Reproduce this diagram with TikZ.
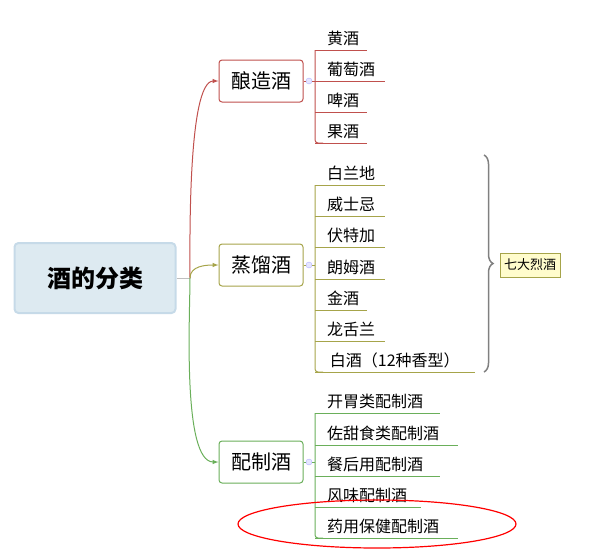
\documentclass[tikz,border=0pt]{standalone}
\usepackage{fontspec}
\setmainfont{Noto Sans CJK SC}
\usetikzlibrary{decorations.pathreplacing}
\definecolor{redline}{HTML}{C0504D}
\definecolor{oliveline}{HTML}{A6A44A}
\definecolor{greenline}{HTML}{6AAF5A}
\definecolor{rootfill}{HTML}{DDEAF1}
\definecolor{rootedge}{HTML}{C6DAE8}
\tikzset{
  rootbox/.style={draw=rootedge, line width=2pt, fill=rootfill, rounded corners=4pt, minimum width=161pt, minimum height=70pt, font=\bfseries\fontsize{24}{26}\selectfont},
  catbox/.style={draw=#1, line width=1pt, fill=white, rounded corners=3pt, minimum width=84pt, minimum height=42pt, font=\fontsize{20}{22}\selectfont},
  leaf/.style={anchor=south west, inner xsep=12pt, inner ysep=4pt, text depth=1pt, align=left, font=\fontsize{16}{18}\selectfont},
  knob/.style={circle, draw=blue!30, fill=blue!10, inner sep=0pt, minimum size=6pt}
}
\begin{document}
\begin{tikzpicture}[x=1pt,y=-1pt]
    \useasboundingbox (0,0) rectangle (600,558);
    % root
    \node[rootbox] (root) at (95,278) {酒的分类};
    \coordinate (hub) at (190,278);
    \draw[gray!50, line width=1pt] (root.east) -- (hub);

    % categories
    \node[catbox=redline] (brew) at (261,81) {酿造酒};
    \node[catbox=oliveline] (dist) at (261,265) {蒸馏酒};
    \node[catbox=greenline] (mix) at (261,462) {配制酒};
    \draw[redline, line width=1pt, -latex] (hub) to[out=90, in=180, looseness=0.4] (brew.west);
    \draw[oliveline, line width=1pt, -latex] (hub) to[out=90, in=180] (dist.west);
    \draw[greenline, line width=1pt, -latex] (hub) to[out=-90, in=180, looseness=0.5] (mix.west);

    % brewed wines
    \foreach \name/\y/\x/\txt in {b1/50/367/黄酒, b2/81/385/葡萄酒, b3/112/367/啤酒, b4/143/367/果酒}
        \node[leaf, text width=\x-315-24] (\name) at (315,\y) {\txt};
    \foreach \name in {b1,b2,b3,b4}
        \draw[redline, line width=1pt] (\name.south west) -- (\name.south east);
    \draw[redline, line width=1pt, rounded corners=3pt] (b1.south west) -- (b4.south west) -- ++(8,0);
    \node[knob] (kb) at (309,81) {};
    \draw[redline] (brew.east) -- (kb) -- (315,81);

    % distilled spirits
    \foreach \name/\y/\x/\txt in {d1/185/385/白兰地, d2/216/385/威士忌, d3/247/385/伏特加, d4/279/385/朗姆酒, d5/310/367/金酒, d6/341/385/龙舌兰, d7/372/475/{\,白酒（12种香型）}}
        \node[leaf, text width=\x-315-24] (\name) at (315,\y) {\txt};
    \foreach \name in {d1,d2,d3,d4,d5,d6,d7}
        \draw[oliveline, line width=1pt] (\name.south west) -- (\name.south east);
    \draw[oliveline, line width=1pt, rounded corners=3pt] (d1.south west) -- (d7.south west) -- ++(8,0);
    \node[knob] (kd) at (309,265) {};
    \draw[oliveline] (dist.east) -- (kd) -- (315,265);

    % brace and summary
    \draw[gray, line width=1.5pt, decorate, decoration={brace, amplitude=9pt}] (484,155) -- (484,372);
    \node[draw=oliveline, fill=yellow!20, inner sep=4pt, minimum height=24pt, font=\fontsize{13}{15}\selectfont] (seven) at (530,265) {七大烈酒};

    % blended wines
    \foreach \name/\y/\x/\txt in {m1/413/440/开胃类配制酒, m2/445/458/佐甜食类配制酒, m3/476/440/餐后用配制酒, m4/507/421/风味配制酒, m5/538/458/药用保健配制酒}
        \node[leaf, text width=\x-315-24] (\name) at (315,\y) {\txt};
    \foreach \name in {m1,m2,m3,m4,m5}
        \draw[greenline, line width=1pt] (\name.south west) -- (\name.south east);
    \draw[greenline, line width=1pt, rounded corners=3pt] (m1.south west) -- (m5.south west) -- ++(8,0);
    \node[knob] (km) at (309,462) {};
    \draw[greenline] (mix.east) -- (km) -- (315,462);

    % highlight
    \draw[red, line width=1.2pt] (377,524) ellipse (139 and 24);
\end{tikzpicture}
\end{document}
